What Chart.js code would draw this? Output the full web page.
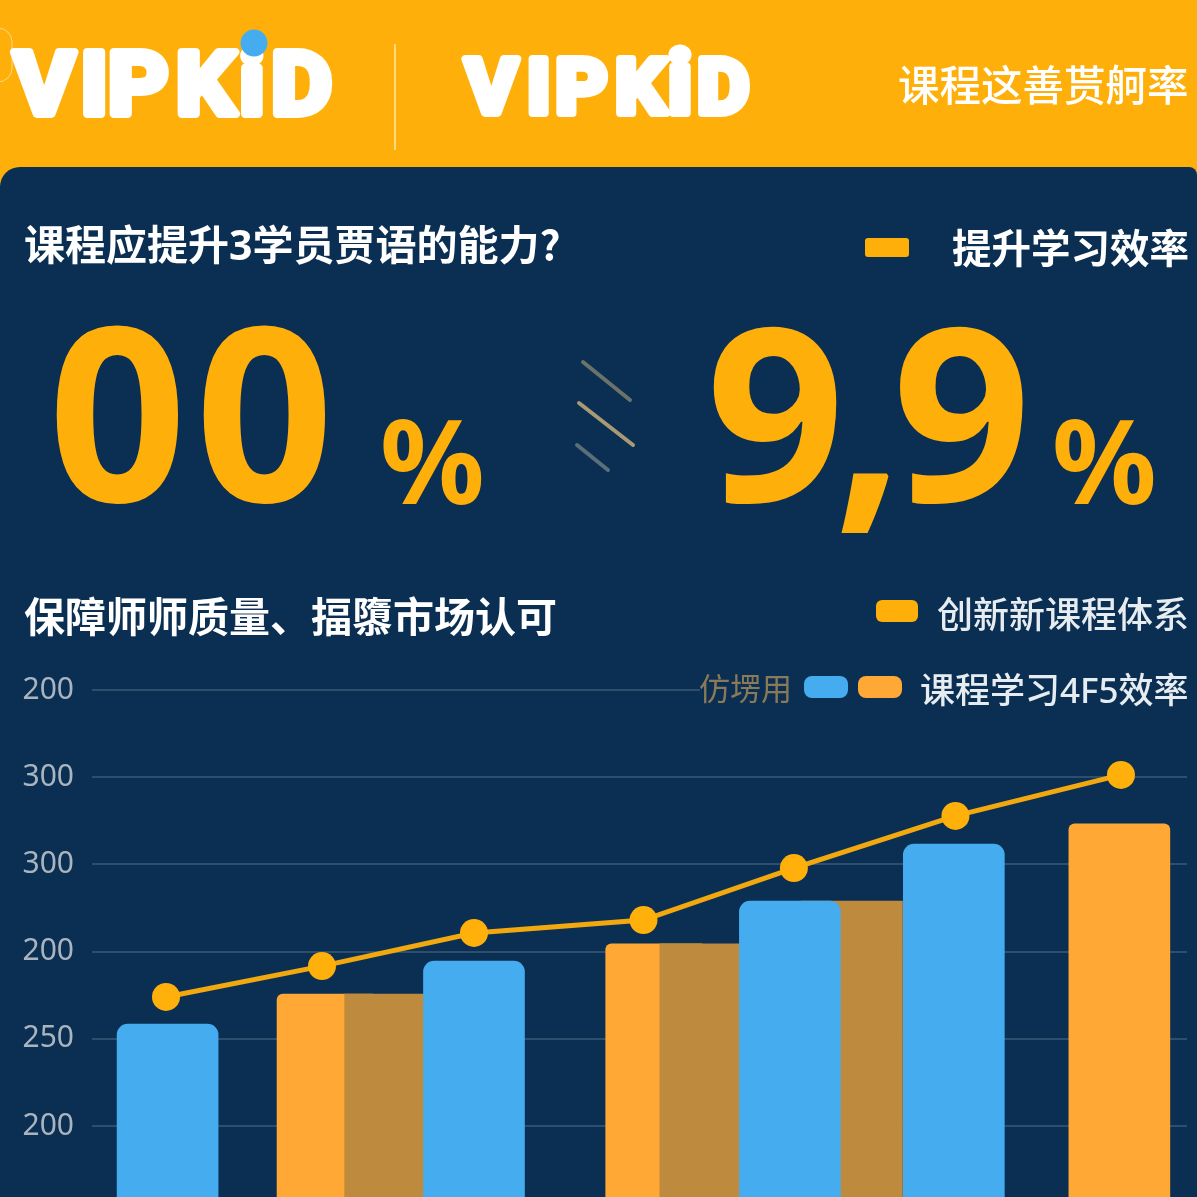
<!DOCTYPE html>
<html lang="zh">
<head>
<meta charset="utf-8">
<title>VIPKID</title>
<script src="https://cdn.jsdelivr.net/npm/chart.js@4"></script>
<style>
  html, body { margin: 0; padding: 0; }
  body { width: 1197px; height: 1197px; overflow: hidden; position: relative; background: #FFAF0A;
    font-family: "Noto Sans CJK SC", "Noto Sans", sans-serif; color: #fff; }
  #panel { position: absolute; left: 0; top: 167px; width: 1197px; height: 1030px; background: #0A2F52; border-radius: 20px 8px 0 0; }
  #chart { position: absolute; left: 0; top: 0; }
  .t { position: absolute; white-space: nowrap; line-height: 1; }
  .swatch { position: absolute; }
  #art { position: absolute; left: 0; top: 0; }
  .big { position: absolute; font-family: "Noto Sans", sans-serif; font-weight: 700; color: #FFAF0A; line-height: 1; white-space: nowrap; }
</style>
</head>
<body>
<div id="panel"></div>
<canvas id="chart" width="1197" height="1197"></canvas>

<svg id="art" width="1197" height="1197" xmlns="http://www.w3.org/2000/svg">
  <rect x="-30" y="28" width="42" height="54" rx="14" fill="none" stroke="#fff" stroke-opacity=".5" stroke-width="1"/>
  <g font-family="Roboto, sans-serif" font-weight="700" fill="#fff" stroke="#fff" stroke-width="8" stroke-linejoin="round" stroke-linecap="round">
    <text transform="scale(1.06,1)" y="114" font-size="88"><tspan x="13">V</tspan><tspan x="76">I</tspan><tspan x="102">P</tspan><tspan x="166">K</tspan><tspan x="226">i</tspan><tspan x="256">D</tspan></text>
    <text transform="scale(1.05,1)" y="113" font-size="76"><tspan x="443">V</tspan><tspan x="502">I</tspan><tspan x="529">P</tspan><tspan x="586">K</tspan><tspan x="636" font-size="88">i</tspan><tspan x="664">D</tspan></text>
  </g>
  <circle cx="254" cy="43" r="13.5" fill="#45ADEF"/>
  <line x1="395" y1="44" x2="395" y2="150" stroke="#FFE6A8" stroke-width="1.5"/>
  <g stroke-linecap="round" stroke-width="4">
    <line x1="583" y1="362" x2="630" y2="400" stroke="#8C8A72" stroke-opacity=".75"/>
    <line x1="579" y1="403" x2="633" y2="445" stroke="#A89A74"/>
    <line x1="577" y1="445" x2="608" y2="470" stroke="#7E8A8C" stroke-opacity=".7"/>
  </g>
</svg>

<div class="t" style="left:898px;top:63px;font-size:41.5px;font-weight:500;">课程这善贳舸率</div>

<div class="t" style="left:24px;top:222px;font-size:41px;font-weight:700;">课程应提升<span style="font-family:'Noto Sans'">3</span>学员贾语的能力?</div>
<div class="swatch" style="left:865px;top:238px;width:44px;height:19px;border-radius:3px;background:#FFAF0A"></div>
<div class="t" style="left:952px;top:226px;font-size:39.5px;font-weight:700;">提升学习效率</div>

<div class="big" style="left:48px;top:286px;font-size:243px;letter-spacing:8px;">00</div>
<div class="big" style="left:380px;top:401px;font-size:116px;">%</div>
<div class="big" style="left:706px;top:286px;font-size:243px;letter-spacing:-11px;">9,9</div>
<div class="big" style="left:1052px;top:401px;font-size:116px;">%</div>

<div class="t" style="left:24px;top:594px;font-size:41px;font-weight:700;">保障师师质量、揊隳市场认可</div>
<div class="swatch" style="left:876px;top:600px;width:42px;height:22px;border-radius:6px;background:#FFAF0A"></div>
<div class="t" style="left:937px;top:594px;font-size:36px;font-weight:500;color:#E6ECF0;">创新新课程体系</div>

<div class="swatch" style="left:700px;top:684px;width:497px;height:12px;background:#0A2F52"></div>
<div class="t" style="left:699px;top:671px;font-size:31px;color:#8A7A5A;">仿塄用</div>
<div class="swatch" style="left:804px;top:676px;width:44px;height:22px;border-radius:8px;background:#45ADEF"></div>
<div class="swatch" style="left:858px;top:676px;width:44px;height:22px;border-radius:8px;background:#FFA836"></div>
<div class="t" style="left:920px;top:670px;font-size:35px;font-weight:500;color:#E6ECF0;">课程学习<span style="font-family:'Noto Sans'">4F5</span>效率</div>

<script>
// values
const tickValues = [200, 250, 300, 350, 400, 450];
const tickLabels = ['200', '250', '200', '300', '300', '200'];

const blueX = [1.01, 2.935, 4.92, 5.95];
const blueValues = [258.5, 294.6, 329, 361.7];

const orangeX = [2.015, 4.08, 6.99];
const orangeValues = [275.7, 304.4, 373.2];

const brownX = [2.44, 4.42, 5.31];
const brownValues = [275.7, 304.4, 329];

const lineX = [1, 1.98, 2.935, 4, 4.945, 5.96, 7];
const lineValues = [274, 291.7, 310.7, 318.1, 347.9, 377.8, 401.3];

const toPoints = (xs, ys) => xs.map((x, i) => ({ x, y: ys[i] }));

const barStyle = {
  type: 'bar',
  grouped: false,
  barThickness: 101,
  borderSkipped: 'bottom',
  borderWidth: 0
};

new Chart(document.getElementById('chart'), {
  type: 'bar',
  data: {
    datasets: [
      { ...barStyle, label: 'orange', data: toPoints(orangeX, orangeValues), backgroundColor: '#FFA836', order: 4, borderRadius: { topLeft: 6, topRight: 6 } },
      { ...barStyle, label: 'brown', data: toPoints(brownX, brownValues), backgroundColor: '#BE8A3E', order: 3, borderRadius: 0 },
      { ...barStyle, label: 'blue', data: toPoints(blueX, blueValues), backgroundColor: '#45ADEF', order: 2, borderRadius: { topLeft: 11, topRight: 11 } },
      {
        type: 'line',
        label: 'line',
        data: toPoints(lineX, lineValues),
        order: 1,
        borderColor: '#F2A80F',
        backgroundColor: '#FFB00A',
        borderWidth: 5,
        tension: 0,
        pointRadius: 14,
        pointBorderWidth: 0
      }
    ]
  },
  options: {
    responsive: false,
    animation: false,
    layout: { autoPadding: false, padding: { top: 690, right: 10, left: 0, bottom: 0 } },
    plugins: { legend: { display: false }, title: { display: false }, tooltip: { enabled: false } },
    scales: {
      x: { type: 'linear', display: false, offset: false, min: 0.535, max: 7.415 },
      y: {
        min: 159.3,
        max: 450,
        afterFit: scale => { scale.width = 92; scale.paddingTop = 0; scale.paddingBottom = 0; },
        afterBuildTicks: scale => { scale.ticks = tickValues.map(value => ({ value })); },
        border: { display: false },
        grid: { color: 'rgba(140,160,180,0.28)', lineWidth: 2, drawTicks: false },
        ticks: {
          padding: 18,
          color: '#A9B4BE',
          font: { family: '"Noto Sans", sans-serif', size: 30 },
          callback: value => tickLabels[tickValues.indexOf(value)]
        }
      }
    }
  }
});
</script>
</body>
</html>
